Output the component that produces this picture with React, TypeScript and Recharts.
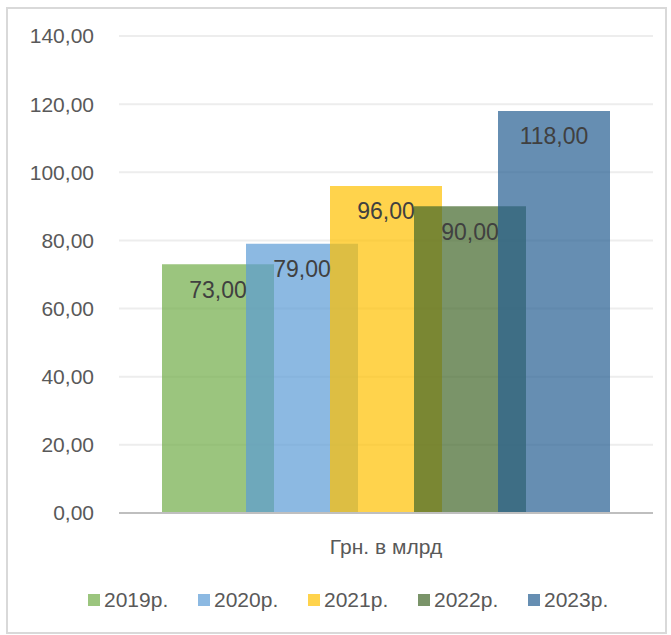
import { BarChart, Bar, XAxis, YAxis, CartesianGrid, Legend, LabelList } from 'recharts';

const categories = ['Грн. в млрд'];
const years = ['2019р.', '2020р.', '2021р.', '2022р.', '2023р.'];
const values = [73, 79, 96, 90, 118];
const colors = ['#70AD47', '#5B9BD5', '#FFC000', '#416629', '#255E91'];
const yTicks = [0, 20, 40, 60, 80, 100, 120, 140];

const data = categories.map((name) => {
  const row: Record<string, string | number> = { name };
  years.forEach((y, i) => {
    row['s' + i] = values[i];
  });
  return row;
});

const font = '"Liberation Sans", Arial, sans-serif';
const fmt = (v: any) => Number(v).toFixed(2).replace('.', ',');

const LegendContent = () => (
  <div
    style={{
      display: 'flex',
      alignItems: 'center',
      height: 30,
      fontFamily: font,
      fontSize: 21,
      color: '#595959',
      paddingLeft: 88,
    }}
  >
    {years.map((y, i) => (
      <div key={y} style={{ display: 'flex', alignItems: 'center', width: 110, flexShrink: 0 }}>
        <span
          style={{
            display: 'inline-block',
            width: 12,
            height: 12,
            background: colors[i],
            opacity: 0.7,
            marginRight: 4,
          }}
        />
        <span>{y}</span>
      </div>
    ))}
  </div>
);

const App = () => {
  return (
    <div style={{ position: 'absolute', left: 0, top: 0, width: 671, height: 635, background: '#fff' }}>
      <div
        style={{
          position: 'absolute',
          left: 6,
          top: 7,
          width: 661,
          height: 627,
          border: '2px solid #d9d9d9',
          boxSizing: 'border-box',
        }}
      />
      <div style={{ position: 'absolute', left: 0, top: 0 }}>
        <BarChart
          width={671}
          height={635}
          data={data}
          margin={{ top: 36, right: 18, left: 0, bottom: 20 }}
          barSize={112}
          barGap={-28}
          style={{ fontFamily: font }}
        >
          <CartesianGrid vertical={false} stroke="#ededed" strokeWidth={2} />
          <XAxis
            dataKey="name"
            height={72}
            axisLine={{ stroke: '#bfbfbf', strokeWidth: 2 }}
            tickLine={false}
            tickSize={0}
            tickMargin={26}
            tick={{ fill: '#595959', fontSize: 21, fontFamily: font }}
          />
          <YAxis
            width={119}
            domain={[0, 140]}
            ticks={yTicks}
            axisLine={false}
            tickLine={false}
            tickSize={0}
            tickMargin={25}
            tickFormatter={fmt}
            tick={{ fill: '#595959', fontSize: 21, fontFamily: font }}
          />
          <Legend verticalAlign="bottom" height={30} content={<LegendContent />} />
          {years.map((y, i) => (
            <Bar
              key={y}
              dataKey={'s' + i}
              name={y}
              fill={colors[i]}
              fillOpacity={0.7}
              isAnimationActive={false}
            >
              <LabelList
                dataKey={'s' + i}
                position="insideTop"
                offset={17}
                formatter={fmt}
                fill="#404040"
                fontSize={23}
                fontFamily={font}
              />
            </Bar>
          ))}
        </BarChart>
      </div>
    </div>
  );
};

export default App;
